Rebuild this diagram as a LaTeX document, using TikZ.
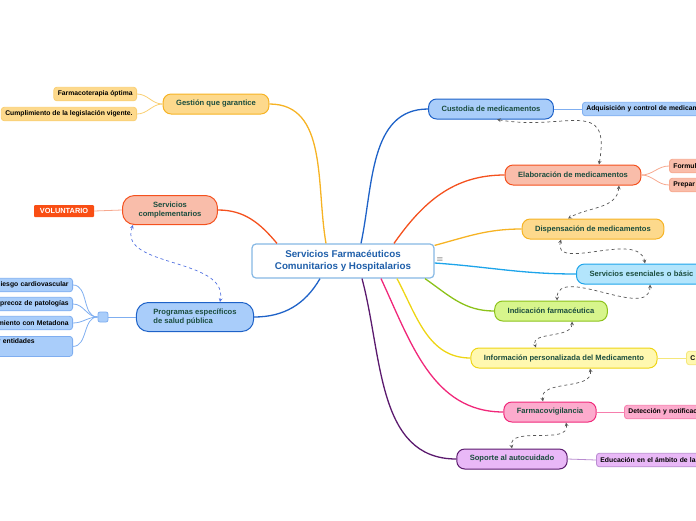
\documentclass[tikz,border=0pt]{standalone}
\usepackage{fontspec}
\setmainfont{Liberation Sans}
\definecolor{rootline}{HTML}{86B8E4}
\definecolor{roottext}{HTML}{1F5FAA}
\definecolor{maintext}{HTML}{1B4D3E}
\definecolor{cblue}{HTML}{1E62C8}
\definecolor{fblue}{HTML}{A9CDFA}
\definecolor{lblue}{HTML}{7FAEF0}
\definecolor{corange}{HTML}{F4511E}
\definecolor{fsalm}{HTML}{F9BDAA}
\definecolor{lsalm}{HTML}{F7A88E}
\definecolor{cyel}{HTML}{F6B324}
\definecolor{fyel}{HTML}{FDD98C}
\definecolor{lyel}{HTML}{F9CF73}
\definecolor{ccyan}{HTML}{1DA4EA}
\definecolor{fcyan}{HTML}{B3E5FC}
\definecolor{clime}{HTML}{8CC21A}
\definecolor{flime}{HTML}{D7F58C}
\definecolor{clyel}{HTML}{EED515}
\definecolor{flyel}{HTML}{FFF8B0}
\definecolor{llyel}{HTML}{F5E77A}
\definecolor{cpink}{HTML}{F0287A}
\definecolor{fpink}{HTML}{FCABCD}
\definecolor{lpink}{HTML}{F67EAD}
\definecolor{cpurp}{HTML}{5B1A6E}
\definecolor{fpurp}{HTML}{E9B8F7}
\definecolor{lpurp}{HTML}{B98CD0}
\definecolor{volred}{HTML}{F94E14}
\definecolor{relgray}{HTML}{555555}
\definecolor{relblue}{HTML}{4F6FE0}

\begin{document}
\begin{tikzpicture}[
x=1pt,y=1pt,
>=stealth,
root/.style={rectangle,rounded corners=4pt,draw=rootline,line width=1.2pt,fill=white,minimum width=182pt,minimum height=34pt,align=center,text=roottext,font=\bfseries\fontsize{9.8}{12}\selectfont},
topic/.style={rectangle,rounded corners=8pt,draw,line width=1pt,minimum height=20pt,inner xsep=13pt,inner ysep=2pt,text=maintext,font=\bfseries\fontsize{7.6}{9.4}\selectfont},
leaf/.style={rectangle,rounded corners=3pt,draw,line width=0.8pt,minimum height=13.5pt,inner xsep=4pt,inner ysep=1pt,font=\bfseries\fontsize{6.8}{8}\selectfont},
line/.style={draw,line width=1.3pt},
thin/.style={draw,line width=0.8pt},
rel/.style={draw,dashed,<->,color=relgray,line width=0.7pt}
]
\useasboundingbox (0,0) rectangle (696,-520);

\node[root] (srv) at (343,-261) {Servicios Farmacéuticos\\Comunitarios y Hospitalarios};
\node[text=black!75,font=\fontsize{8}{8}\selectfont] (mk) at (440,-260) {$\equiv$};

% right side
\node[topic,fill=fblue,draw=cblue] (cus) at (491,-109) {Custodia de medicamentos};
\node[topic,fill=fsalm,draw=corange] (ela) at (573,-175) {Elaboración de medicamentos};
\node[topic,fill=fyel,draw=cyel] (dis) at (593,-229) {Dispensación de medicamentos};
\node[topic,fill=fcyan,draw=ccyan,anchor=west,text width=130pt,align=left] (ese) at (576,-274) {Servicios esenciales o básic};
\node[topic,fill=flime,draw=clime] (ind) at (551,-311) {Indicación farmacéutica};
\node[topic,fill=flyel,draw=clyel] (inf) at (564,-358) {Información personalizada del Medicamento};
\node[topic,fill=fpink,draw=cpink] (fvg) at (550,-412) {Farmacovigilancia};
\node[topic,fill=fpurp,draw=cpurp] (sop) at (512,-459) {Soporte al autocuidado};

\node[leaf,fill=fblue,draw=lblue,anchor=west,text width=130pt,align=left] (cus1) at (582,-109) {Adquisición y control de medicam};
\node[leaf,fill=fsalm,draw=lsalm,anchor=west,text width=40pt,align=left] (ela1) at (669,-166) {Formul};
\node[leaf,fill=fsalm,draw=lsalm,anchor=west,text width=40pt,align=left] (ela2) at (669,-185) {Prepar};
\node[leaf,fill=flyel,draw=llyel,anchor=west,text width=30pt,align=left] (inf1) at (686,-358) {C};
\node[leaf,fill=fpink,draw=lpink,anchor=west,text width=100pt,align=left] (fvg1) at (624,-412) {Detección y notificac};
\node[leaf,fill=fpurp,draw=lpurp,anchor=west,text width=130pt,align=left] (sop1) at (596,-460) {Educación en el ámbito de la};

% left side
\node[topic,fill=fyel,draw=cyel] (ges) at (216,-104) {Gestión que garantice};
\node[topic,fill=fsalm,draw=corange,rounded corners=12pt,minimum height=29pt,inner xsep=16pt,align=center] (com) at (170,-210) {Servicios\\complementarios};
\node[topic,fill=fblue,draw=cblue,rounded corners=12pt,minimum height=29pt,inner xsep=17pt,align=left] (pro) at (195,-317) {Programas específicos\\de salud pública};

\node[leaf,fill=fyel,draw=lyel,anchor=east] (ges1) at (137,-94) {Farmacoterapia óptima};
\node[leaf,fill=fyel,draw=lyel,anchor=east] (ges2) at (137,-114) {Cumplimiento de la legislación vigente.};
\node[rectangle,rounded corners=1pt,fill=volred,text=white,minimum width=60pt,minimum height=12pt,inner sep=1pt,font=\bfseries\fontsize{7.4}{8}\selectfont] (vol) at (64,-211) {VOLUNTARIO};

\node[leaf,fill=fblue,draw=lblue,minimum width=10pt,minimum height=10pt,inner sep=0pt,rounded corners=2pt] (hub) at (103,-317) {};
\node[leaf,fill=fblue,draw=lblue,anchor=east,text width=100pt,align=right] (pro1) at (73,-285) {iesgo cardiovascular};
\node[leaf,fill=fblue,draw=lblue,anchor=east,text width=100pt,align=right] (pro2) at (73,-304) {precoz de patologías};
\node[leaf,fill=fblue,draw=lblue,anchor=east,text width=100pt,align=right] (pro3) at (73,-323) {miento con Metadona};
\node[leaf,fill=fblue,draw=lblue,anchor=north east,text width=100pt,align=right,text height=5pt,text depth=10pt,inner ysep=2.5pt] (pro4) at (73,-336) {r entidades\rule{34pt}{0pt}};

% branches
\path[line,draw=cblue] ([xshift=18pt]srv.north) to[out=78,in=180] (cus.west);
\path[line,draw=corange] ([xshift=51pt]srv.north) to[out=55,in=180] (ela.west);
\path[line,draw=cyel] ([yshift=-2pt]srv.north east) to[out=15,in=180] (dis.west);
\path[line,draw=ccyan] ([yshift=-2pt]srv.east) to[out=-4,in=180] (ese.west);
\path[line,draw=clime] ([xshift=82pt]srv.south) to[out=-35,in=180] (ind.west);
\path[line,draw=clyel] ([xshift=54pt]srv.south) to[out=-62,in=180] (inf.west);
\path[line,draw=cpink] ([xshift=38pt]srv.south) to[out=-65,in=180] (fvg.west);
\path[line,draw=cpurp] ([xshift=19pt]srv.south) to[out=-75,in=180] (sop.west);
\path[line,draw=cyel] ([xshift=-17pt]srv.north) to[out=100,in=0] (ges.east);
\path[line,draw=corange] ([xshift=-66pt]srv.north) to[out=130,in=0] (com.east);
\path[line,draw=cblue] ([xshift=-23pt]srv.south) to[out=-120,in=0] (pro.east);

% leaves
\path[thin,draw=lblue] (cus.east) -- (cus1.west);
\path[thin,draw=lsalm] (ela.east) to[out=0,in=180] (ela1.west);
\path[thin,draw=lsalm] (ela.east) to[out=0,in=180] (ela2.west);
\path[thin,draw=llyel] (inf.east) -- (inf1.west);
\path[thin,draw=lpink] (fvg.east) -- (fvg1.west);
\path[thin,draw=lpurp] (sop.east) -- (sop1.west);
\path[thin,draw=lyel] (ges.west) to[out=180,in=0] (ges1.east);
\path[thin,draw=lyel] (ges.west) to[out=180,in=0] (ges2.east);
\path[thin,draw=lsalm] (com.west) -- (vol.east);
\path[thin,draw=lblue] (pro.west) -- (hub.east);
\path[thin,draw=lblue] (hub.west) to[out=180,in=0] (pro1.east);
\path[thin,draw=lblue] (hub.west) to[out=180,in=0] (pro2.east);
\path[thin,draw=lblue] (hub.west) to[out=180,in=0] (pro3.east);
\path[thin,draw=lblue] (hub.west) to[out=180,in=0] (pro4.east);

% relations
\path[rel] ([xshift=6pt]cus.south) to[out=-10,in=80,looseness=1.6] ([xshift=26pt]ela.north);
\path[rel] ([xshift=46pt]ela.south) to[out=-95,in=30] ([xshift=-25pt]dis.north);
\path[rel] ([xshift=-32pt]dis.south) to[out=-105,in=100] ([xshift=69pt]ese.north west);
\path[rel] ([xshift=74pt]ese.south west) to[out=-90,in=90] ([xshift=6pt]ind.north);
\path[rel] ([xshift=21pt]ind.south) to[out=-90,in=110] ([xshift=-28pt]inf.north);
\path[rel] ([xshift=26pt]inf.south) to[out=-80,in=100] ([xshift=-7pt]fvg.north);
\path[rel] ([xshift=16pt]fvg.south) to[out=-80,in=100] (sop.north);
\path[rel,color=relblue] ([xshift=-37pt]com.south) to[out=-110,in=80] ([xshift=25pt]pro.north);

\end{tikzpicture}
\end{document}
